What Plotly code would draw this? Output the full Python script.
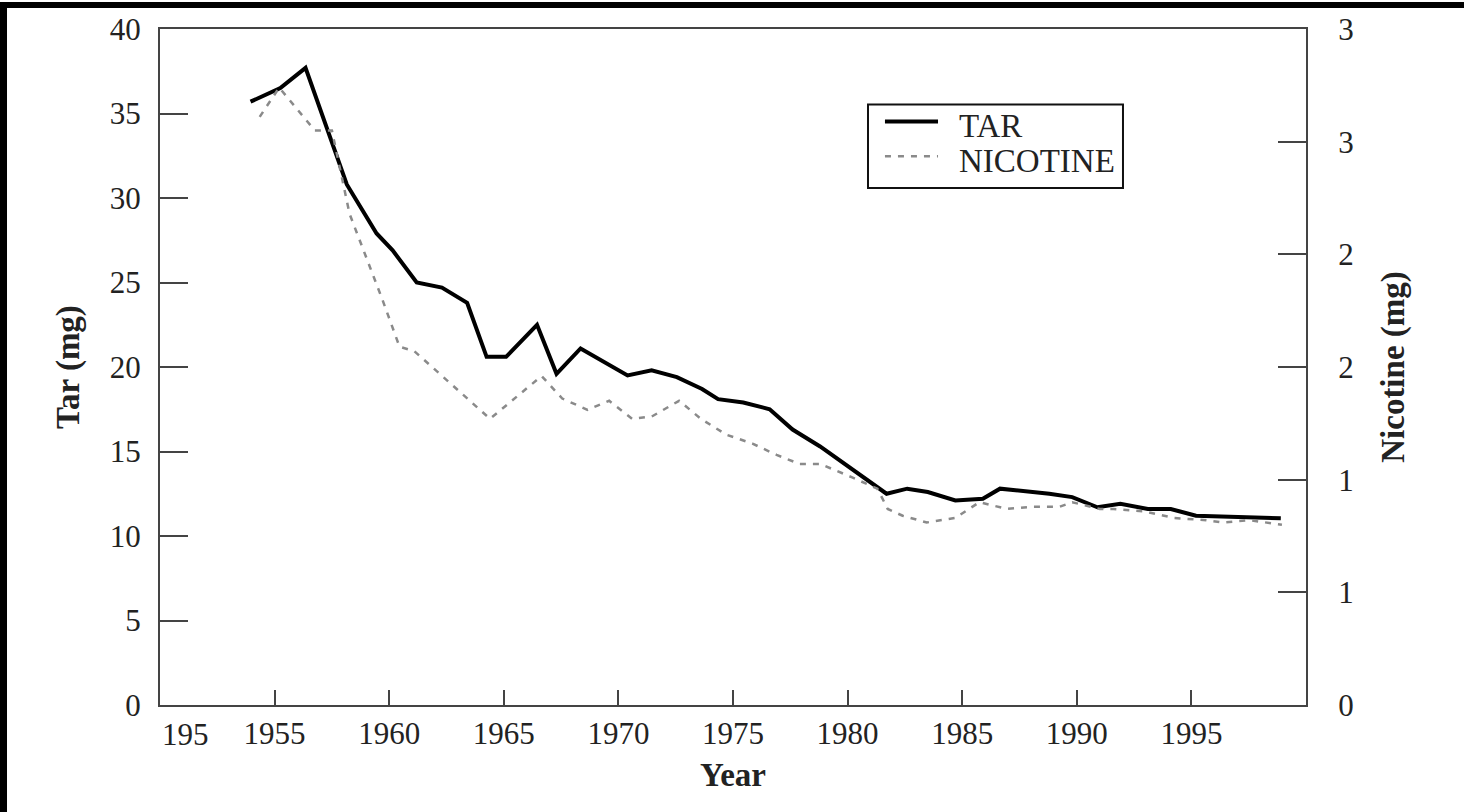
import plotly.graph_objects as go

# Tar yield (mg)
tar_years = [1953.95, 1955.25, 1956.35, 1958.15, 1959.45, 1960.15, 1961.2, 1962.3, 1963.4,
             1964.25, 1965.1, 1966.45, 1967.3, 1968.35, 1970.4, 1971.45, 1972.55, 1973.65,
             1974.35, 1975.45, 1976.6, 1977.6, 1978.8, 1981.7, 1982.6, 1983.5, 1984.7,
             1985.9, 1986.65, 1988.8, 1989.8, 1990.9, 1991.9, 1993.1, 1994.1, 1995.2, 1998.9]
tar_mg = [35.7, 36.5, 37.7, 30.8, 27.9, 26.9, 25.0, 24.7, 23.8,
          20.6, 20.6, 22.5, 19.6, 21.1, 19.5, 19.8, 19.4, 18.7,
          18.1, 17.9, 17.5, 16.3, 15.3, 12.5, 12.8, 12.6, 12.1,
          12.2, 12.8, 12.5, 12.3, 11.7, 11.9, 11.6, 11.6, 11.2, 11.05]

# Nicotine yield (mg), right axis
nic_years = [1954.35, 1955.2, 1956.75, 1957.5, 1958.27, 1959.7, 1960.45, 1961.1, 1964.4,
             1966.65, 1967.55, 1968.65, 1969.6, 1970.6, 1971.45, 1972.65, 1973.6, 1974.7,
             1975.85, 1976.9, 1977.9, 1978.8, 1980.2, 1981.3, 1981.75, 1982.4, 1983.45,
             1984.7, 1985.75, 1986.95, 1988.1, 1989.25, 1989.8, 1991.0, 1991.6, 1992.9,
             1994.25, 1995.65, 1996.35, 1997.55, 1998.95]
nic_mg = [2.61, 2.74, 2.55, 2.55, 2.18, 1.80, 1.59, 1.57, 1.27,
          1.46, 1.36, 1.31, 1.35, 1.27, 1.28, 1.35, 1.27, 1.20,
          1.16, 1.11, 1.07, 1.07, 1.01, 0.96, 0.87, 0.84, 0.81,
          0.83, 0.90, 0.87, 0.88, 0.88, 0.90, 0.87, 0.87, 0.86,
          0.83, 0.82, 0.81, 0.82, 0.80]

x_ticks = [1955, 1960, 1965, 1970, 1975, 1980, 1985, 1990, 1995]
tar_ticks = [0, 5, 10, 15, 20, 25, 30, 35, 40]
nic_ticks = [0, 0.5, 1.0, 1.5, 2.0, 2.5, 3.0]
nic_labels = ['0', '1', '1', '2', '2', '3', '3']

SERIF = 'Liberation Serif, Times New Roman, serif'
AXIS = '#444444'
TXT = '#222222'
TAR_STYLE = dict(color='#000000', width=4)
NIC_STYLE = dict(color='#8a8a8a', width=2.5, dash='6px,7px')

fig = go.Figure()

fig.add_trace(go.Scatter(x=tar_years, y=tar_mg, name='TAR', mode='lines', line=TAR_STYLE))
fig.add_trace(go.Scatter(x=nic_years, y=nic_mg, name='NICOTINE', mode='lines',
                         yaxis='y2', line=NIC_STYLE))

fig.update_layout(
    width=1464, height=812,
    margin=dict(l=160, r=158, t=25, b=107),
    plot_bgcolor='white',
    paper_bgcolor='white',
    font=dict(family=SERIF, size=31, color=TXT),
    xaxis=dict(
        range=[1950, 2000], tickvals=x_ticks, ticks='inside', ticklen=15,
        tickwidth=2, tickcolor=AXIS, showline=True, linecolor=AXIS, linewidth=2,
        mirror=True, showgrid=False, zeroline=False, ticklabelstandoff=0,
        title=dict(text='<b>Year</b>', font=dict(size=33, color=TXT), standoff=13)
    ),
    yaxis=dict(
        range=[0, 40], tickvals=tar_ticks, ticks='inside', ticklen=28,
        tickwidth=2, tickcolor=AXIS, showline=True, linecolor=AXIS, linewidth=2,
        showgrid=False, zeroline=False, ticklabelstandoff=11,
        title=dict(text='<b>Tar (mg)</b>', font=dict(size=33, color=TXT), standoff=20)
    ),
    yaxis2=dict(
        range=[0, 3], tickvals=nic_ticks, ticktext=nic_labels, overlaying='y',
        side='right', ticks='inside', ticklen=28, tickwidth=2, tickcolor=AXIS,
        showline=True, linecolor=AXIS, linewidth=2, showgrid=False, zeroline=False,
        ticklabelstandoff=24,
        title=dict(text='<b>Nicotine (mg)</b>', font=dict(size=33, color=TXT), standoff=28)
    ),
    showlegend=False
)

# truncated first x label as it appears on the original
fig.add_annotation(
    x=1950, y=0, xref='x', yref='y', text='195', showarrow=False,
    xanchor='left', yanchor='top', yshift=-10,
    font=dict(family=SERIF, size=31, color=TXT)
)

# boxed key drawn in paper space to match the original's compact spacing
fig.add_shape(type='rect', xref='paper', yref='paper',
              x0=0.6178, x1=0.8403, y0=0.7647, y1=0.8882,
              fillcolor='white', line=dict(color='#111111', width=2))
for name, style, yk in [('TAR', TAR_STYLE, 0.8632), ('NICOTINE', NIC_STYLE, 0.8118)]:
    fig.add_shape(type='line', xref='paper', yref='paper',
                  x0=0.6326, x1=0.6789, y0=yk, y1=yk, line=style)
    fig.add_annotation(x=0.6955, y=yk - 0.007, xref='paper', yref='paper', text=name,
                       showarrow=False, xanchor='left', yanchor='middle',
                       font=dict(family=SERIF, size=33, color=TXT))

# black scan borders at left and top edges
fig.add_shape(type='rect', xref='paper', yref='paper',
              x0=-0.14, x1=-0.1335, y0=-0.16, y1=1.04,
              fillcolor='black', line=dict(width=0), layer='above')
fig.add_shape(type='rect', xref='paper', yref='paper',
              x0=-0.14, x1=1.14, y0=1.031, y1=1.04,
              fillcolor='black', line=dict(width=0), layer='above')

fig.write_html("out.html", config={'displayModeBar': False},
               post_script="document.body.style.margin='0';")
